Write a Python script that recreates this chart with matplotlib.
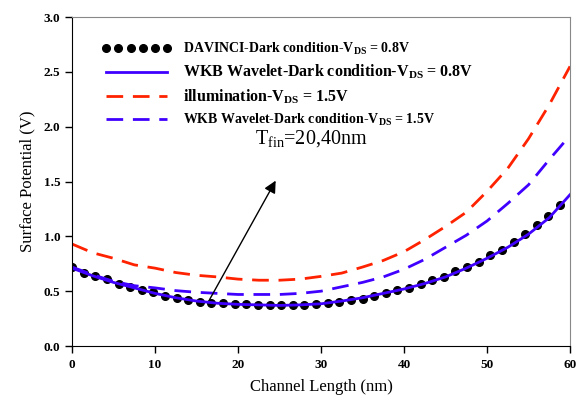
"""Surface potential along the channel: DAVINCI vs WKB wavelet model."""

import matplotlib
matplotlib.use("Agg")
import matplotlib.pyplot as plt
import numpy as np

plt.rcParams["font.family"] = ["Liberation Serif", "DejaVu Serif"]
plt.rcParams["mathtext.fontset"] = "custom"
plt.rcParams["mathtext.rm"] = "Liberation Serif"
plt.rcParams["mathtext.it"] = "Liberation Serif:italic"
plt.rcParams["mathtext.bf"] = "Liberation Serif:bold"

# DAVINCI simulation points, dark condition, VDS = 0.8 V (step 1.4 nm)
x_dav = np.round(np.arange(43) * 1.4, 1)
y_dav = [0.72, 0.67, 0.64, 0.61, 0.57, 0.54, 0.51, 0.49, 0.46, 0.44,
         0.42, 0.40, 0.39, 0.39, 0.38, 0.38, 0.375, 0.37, 0.37, 0.37,
         0.375, 0.38, 0.39, 0.40, 0.42, 0.43, 0.46, 0.48, 0.51, 0.53,
         0.57, 0.60, 0.63, 0.68, 0.72, 0.77, 0.83, 0.875, 0.95, 1.02,
         1.10, 1.19, 1.29]

# model curves, sampled every 2.5 nm
x_model = [0, 2.5, 5, 7.5, 10, 12.5, 15, 17.5, 20, 22.5, 25, 27.5, 30,
           32.5, 35, 37.5, 40, 42.5, 45, 47.5, 50, 52.5, 55, 57.5, 60]
y_wkb_08 = [0.71, 0.64, 0.58, 0.53, 0.48, 0.44, 0.41, 0.39, 0.38, 0.375,
            0.37, 0.375, 0.385, 0.41, 0.44, 0.48, 0.52, 0.57, 0.63, 0.71,
            0.80, 0.90, 1.02, 1.17, 1.38]
y_illum_15 = [0.93, 0.85, 0.80, 0.74, 0.71, 0.67, 0.645, 0.63, 0.61, 0.60,
              0.60, 0.61, 0.635, 0.665, 0.72, 0.78, 0.86, 0.97, 1.09, 1.22,
              1.41, 1.62, 1.89, 2.20, 2.55]
y_wkb_15 = [0.72, 0.65, 0.59, 0.55, 0.53, 0.505, 0.49, 0.48, 0.47, 0.47,
            0.47, 0.48, 0.50, 0.54, 0.58, 0.63, 0.70, 0.79, 0.90, 1.01,
            1.14, 1.30, 1.47, 1.70, 1.92]

blue = "#4000ff"
red = "#ff2200"

fig = plt.figure(figsize=(5.79, 4.03), dpi=100)
ax = fig.add_axes([0.1244, 0.1414, 0.8601, 0.8164])

ax.plot(x_dav, y_dav, linestyle="none", marker="o", markersize=5.5,
        color="black", label=r"DAVINCI-Dark condition-V$_{\mathbf{DS}}$ = 0.8V")
ax.plot(x_model, y_wkb_08, color=blue, linewidth=2,
        label=r"WKB Wavelet-Dark condition-V$_{\mathbf{DS}}$ = 0.8V")
ax.plot(x_model, y_illum_15, color=red, linewidth=2, dashes=(6, 3.5),
        label=r"illumination-V$_{\mathbf{DS}}$ = 1.5V")
ax.plot(x_model, y_wkb_15, color=blue, linewidth=2, dashes=(6, 3.5),
        label=r"WKB Wavelet-Dark condition-V$_{\mathbf{DS}}$ = 1.5V")

ax.annotate("", xy=(24.7, 1.53), xytext=(16.4, 0.40),
            arrowprops=dict(arrowstyle="-|>", color="black", lw=1,
                            mutation_scale=18))
ax.text(22.0, 1.80, r"T$_{\rm fin}$=20,40nm", fontsize=14.5, va="bottom")

ax.set_xlim(0, 60)
ax.set_ylim(0, 3.0)
ax.set_xticks([0, 10, 20, 30, 40, 50, 60])
ax.set_yticks([0.0, 0.5, 1.0, 1.5, 2.0, 2.5, 3.0])
ax.set_yticklabels(["0.0", "0.5", "1.0", "1.5", "2.0", "2.5", "3.0"])
ax.tick_params(direction="out", length=5, width=1, labelsize=9.5,
               top=False, right=False)
for lab in ax.get_xticklabels() + ax.get_yticklabels():
    lab.set_fontweight("bold")
ax.tick_params(axis="x", pad=4)

for side in ("top", "right"):
    ax.spines[side].set_color("#888888")

ax.set_xlabel("Channel Length (nm)", fontsize=12, labelpad=6)
ax.set_ylabel("Surface Potential (V)", fontsize=12, labelpad=6)

leg = ax.legend(loc="upper left", bbox_to_anchor=(0.035, 0.965), frameon=False,
                numpoints=6, handlelength=5.0, handletextpad=0.8,
                labelspacing=0.42, prop={"weight": "bold", "size": 10})
texts = leg.get_texts()
texts[1].set_fontsize(11.5)
texts[2].set_fontsize(11.5)

fig.savefig("out.png", dpi=100)
